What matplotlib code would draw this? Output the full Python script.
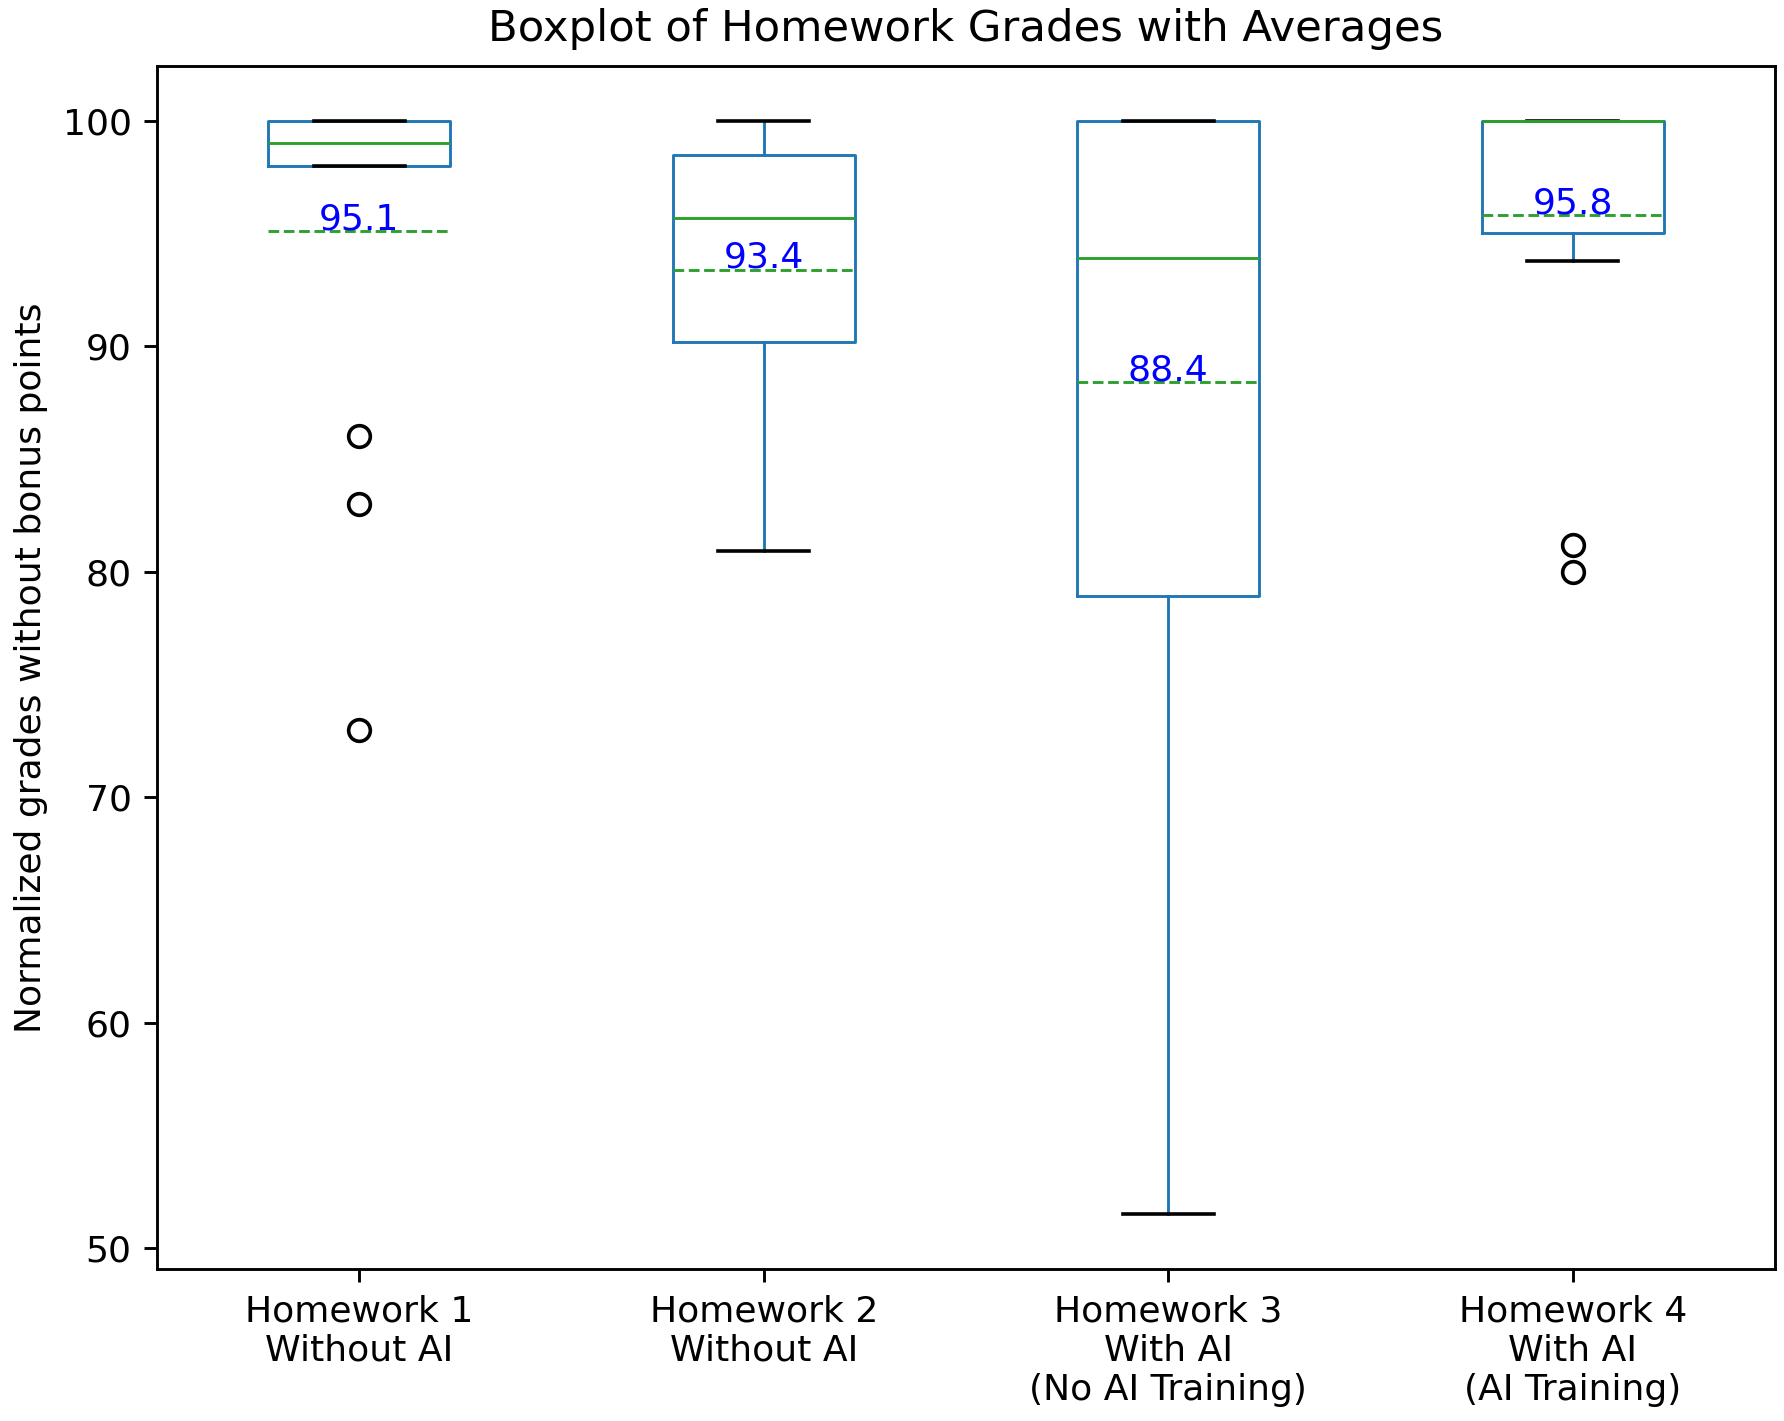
import matplotlib
matplotlib.use("Agg")
import matplotlib.pyplot as plt

# values
labels = ["Homework 1\nWithout AI", "Homework 2\nWithout AI",
          "Homework 3\nWith AI\n(No AI Training)", "Homework 4\nWith AI\n(AI Training)"]
medians = [99.0, 95.7, 93.9, 100.0]
q1 = [98.0, 90.2, 78.9, 95.0]
q3 = [100.0, 98.5, 100.0, 100.0]
whis_lo = [98.0, 80.9, 51.5, 93.8]
whis_hi = [100.0, 100.0, 100.0, 100.0]
fliers = [[86.0, 83.0, 73.0], [], [], [81.2, 80.0]]
means = [95.1, 93.4, 88.4, 95.8]

stats = []
for i in range(len(labels)):
    stats.append({"med": medians[i], "q1": q1[i], "q3": q3[i],
                  "whislo": whis_lo[i], "whishi": whis_hi[i],
                  "fliers": fliers[i], "mean": means[i], "label": labels[i]})

dpi = 260
fig = plt.figure(figsize=(1784 / dpi, 1421 / dpi), dpi=dpi)
ax = fig.add_axes([0.088, 0.107, 0.907, 0.8465])

ax.bxp(stats, showmeans=True, meanline=True, widths=0.45,
       boxprops=dict(color="C0", linewidth=0.8),
       whiskerprops=dict(color="C0", linewidth=0.8),
       capprops=dict(color="k", zorder=2.05),
       medianprops=dict(color="C2", linewidth=0.8),
       meanprops=dict(color="C2", linestyle="--", linewidth=0.8),
       flierprops=dict(marker="o", markeredgecolor="k", markerfacecolor="none"))

for i, m in enumerate(means):
    ax.annotate(f"{m:.1f}", (i + 1, m), xytext=(0, 0.6), textcoords="offset points",
                ha="center", va="baseline", color="blue", fontsize=10)

ax.set_title("Boxplot of Homework Grades with Averages", fontsize=12, pad=7)
ax.set_ylabel("Normalized grades without bonus points")

fig.savefig("out.png", dpi=dpi)
